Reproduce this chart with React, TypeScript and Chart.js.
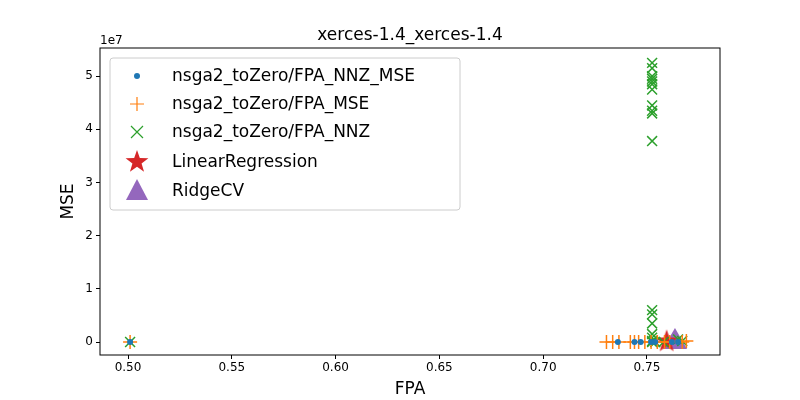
import React, { useEffect, useRef } from "react";
import { Chart, registerables } from "chart.js";
Chart.register(...registerables);

const labels = ["nsga2_toZero/FPA_NNZ_MSE", "nsga2_toZero/FPA_MSE", "nsga2_toZero/FPA_NNZ", "LinearRegression", "RidgeCV"];
const blueX = [0.501, 0.736, 0.744, 0.747, 0.752, 0.754, 0.762, 0.765];
const blueY = [0, 0, 0, 0, 0, 0, 0, 0];
const orangeX = [0.501, 0.7305, 0.7335, 0.7365, 0.742, 0.744, 0.746, 0.749, 0.752, 0.755, 0.7585, 0.761, 0.767, 0.769];
const orangeY = [0, 0, 0, 0, 0, 0, 0, 0, 0, 0, 0, 0, 0, 0.02e7];
const greenX = [0.501, 0.7525, 0.7525, 0.7525, 0.7525, 0.7525, 0.7525, 0.7525, 0.7525, 0.7525, 0.7525, 0.7525, 0.7525, 0.7525, 0.7525, 0.7525, 0.7525, 0.7525, 0.7525, 0.754, 0.758, 0.765, 0.767];
const greenY = [0, 5.25e7, 5.15e7, 5.0e7, 4.95e7, 4.9e7, 4.85e7, 4.75e7, 4.45e7, 4.35e7, 4.3e7, 3.78e7, 0.6e7, 0.52e7, 0.35e7, 0.15e7, 0.08e7, 0.02e7, 0, 0, 0, 0.05e7, 0.02e7];
const lrX = [0.7595];
const lrY = [0.01e7];
const rcX = [0.7635];
const rcY = [0];

function starCanvas(r: number, color: string) {
  const c = document.createElement("canvas");
  c.width = c.height = r * 2 + 2;
  const g = c.getContext("2d")!;
  g.fillStyle = color;
  g.beginPath();
  for (let i = 0; i < 10; i++) {
    const a = -Math.PI / 2 + (i * Math.PI) / 5;
    const rr = i % 2 === 0 ? r : r * 0.4;
    g.lineTo(r + 1 + rr * Math.cos(a), r + 1 + rr * Math.sin(a));
  }
  g.closePath();
  g.fill();
  return c;
}

export default function App() {
  const ref = useRef<HTMLCanvasElement>(null);
  useEffect(() => {
    document.body.style.margin = "0";
    const star = starCanvas(12, "#d62728");
    const mk = (x: number[], y: number[]) => x.map((v, i) => ({ x: v, y: y[i] }));
    const styles = [
      { c: "#1f77b4", ps: "circle", r: 3, bw: 0 },
      { c: "#ff7f0e", ps: "cross", r: 7, bw: 1.5 },
      { c: "#2ca02c", ps: "crossRot", r: 7, bw: 1.5 },
      { c: "#d62728", ps: star, r: 12, bw: 0 },
      { c: "#9467bd", ps: "triangle", r: 14, bw: 0 },
    ];
    const datas = [mk(blueX, blueY), mk(orangeX, orangeY), mk(greenX, greenY), mk(lrX, lrY), mk(rcX, rcY)];
    const overlay = {
      id: "overlay",
      afterDraw(ch: any) {
        const g = ch.ctx as CanvasRenderingContext2D;
        const a = ch.chartArea;
        g.save();
        g.strokeStyle = "#000";
        g.lineWidth = 1;
        g.strokeRect(a.left, a.top, a.right - a.left, a.bottom - a.top);
        g.fillStyle = "#000";
        g.font = "17px 'DejaVu Sans'";
        g.textAlign = "center";
        g.textBaseline = "alphabetic";
        g.fillText("xerces-1.4_xerces-1.4", (a.left + a.right) / 2, 40);
        g.save();
        g.translate(73, (a.top + a.bottom) / 2);
        g.rotate(-Math.PI / 2);
        g.fillText("MSE", 0, 0);
        g.restore();
        g.font = "12px 'DejaVu Sans'";
        g.textAlign = "left";
        g.fillText("1e7", a.left, 44);
        // legend
        g.fillStyle = "rgba(255,255,255,0.8)";
        g.strokeStyle = "#cccccc";
        g.beginPath();
        (g as any).roundRect(110, 58, 350, 152, 3);
        g.fill();
        g.stroke();
        const ys = [76, 104, 132, 162, 191];
        g.font = "17px 'DejaVu Sans'";
        g.textBaseline = "middle";
        styles.forEach((s, i) => {
          const y = ys[i];
          const x = 137;
          g.fillStyle = s.c;
          g.strokeStyle = s.c;
          g.lineWidth = 1.2;
          if (i === 0) { g.beginPath(); g.arc(x, y, 3, 0, Math.PI * 2); g.fill(); }
          else if (i === 1) { g.beginPath(); g.moveTo(x - 7, y); g.lineTo(x + 7, y); g.moveTo(x, y - 7); g.lineTo(x, y + 7); g.stroke(); }
          else if (i === 2) { g.beginPath(); g.moveTo(x - 6, y - 6); g.lineTo(x + 6, y + 6); g.moveTo(x + 6, y - 6); g.lineTo(x - 6, y + 6); g.stroke(); }
          else if (i === 3) { g.drawImage(star, x - 13, y - 13); }
          else { g.beginPath(); g.moveTo(x, y - 12); g.lineTo(x + 11, y + 9); g.lineTo(x - 11, y + 9); g.closePath(); g.fill(); }
          g.fillStyle = "#000";
          g.fillText(labels[i], 172, y + 1);
        });
        g.restore();
      },
    };
    const tickGrid = { display: true, drawOnChartArea: false, drawTicks: true, tickLength: 4, color: "#000" } as any;
    const chart = new Chart(ref.current!, {
      type: "scatter",
      data: {
        datasets: datas.map((d, i) => ({
          label: labels[i],
          data: d,
          pointStyle: styles[i].ps as any,
          pointRadius: styles[i].r,
          pointBackgroundColor: styles[i].c,
          pointBorderColor: styles[i].c,
          pointBorderWidth: styles[i].bw,
        })),
      },
      options: {
        animation: false,
        responsive: false,
        layout: { padding: { top: 48, right: 80, left: 0, bottom: 0 } },
        plugins: { legend: { display: false }, tooltip: { enabled: false } },
        scales: {
          x: {
            min: 0.4865, max: 0.7852,
            grid: tickGrid,
            border: { display: false },
            title: { display: true, text: "FPA", font: { size: 17, family: "DejaVu Sans" }, color: "#000", padding: 0 },
            ticks: {
              color: "#000", font: { size: 12, family: "DejaVu Sans" },
              callback: (v: any) => Number(v).toFixed(2),
              autoSkip: false, maxRotation: 0, padding: 2,
            },
            afterBuildTicks: (s: any) => { s.ticks = [0.5, 0.55, 0.6, 0.65, 0.7, 0.75].map((v) => ({ value: v })); },
            afterFit: (s: any) => { s.height = 45; },
          },
          y: {
            min: -0.244e7, max: 5.53e7,
            grid: tickGrid,
            border: { display: false },
            ticks: { color: "#000", font: { size: 12, family: "DejaVu Sans" }, padding: 3, callback: (v: any) => String(Number(v) / 1e7) },
            afterBuildTicks: (s: any) => { s.ticks = [0, 1, 2, 3, 4, 5].map((v) => ({ value: v * 1e7 })); },
            afterFit: (s: any) => { s.width = 100; },
          },
        },
      },
      plugins: [overlay],
    });
    return () => chart.destroy();
  }, []);
  return <canvas ref={ref} width={800} height={400} style={{ display: "block" }} />;
}
